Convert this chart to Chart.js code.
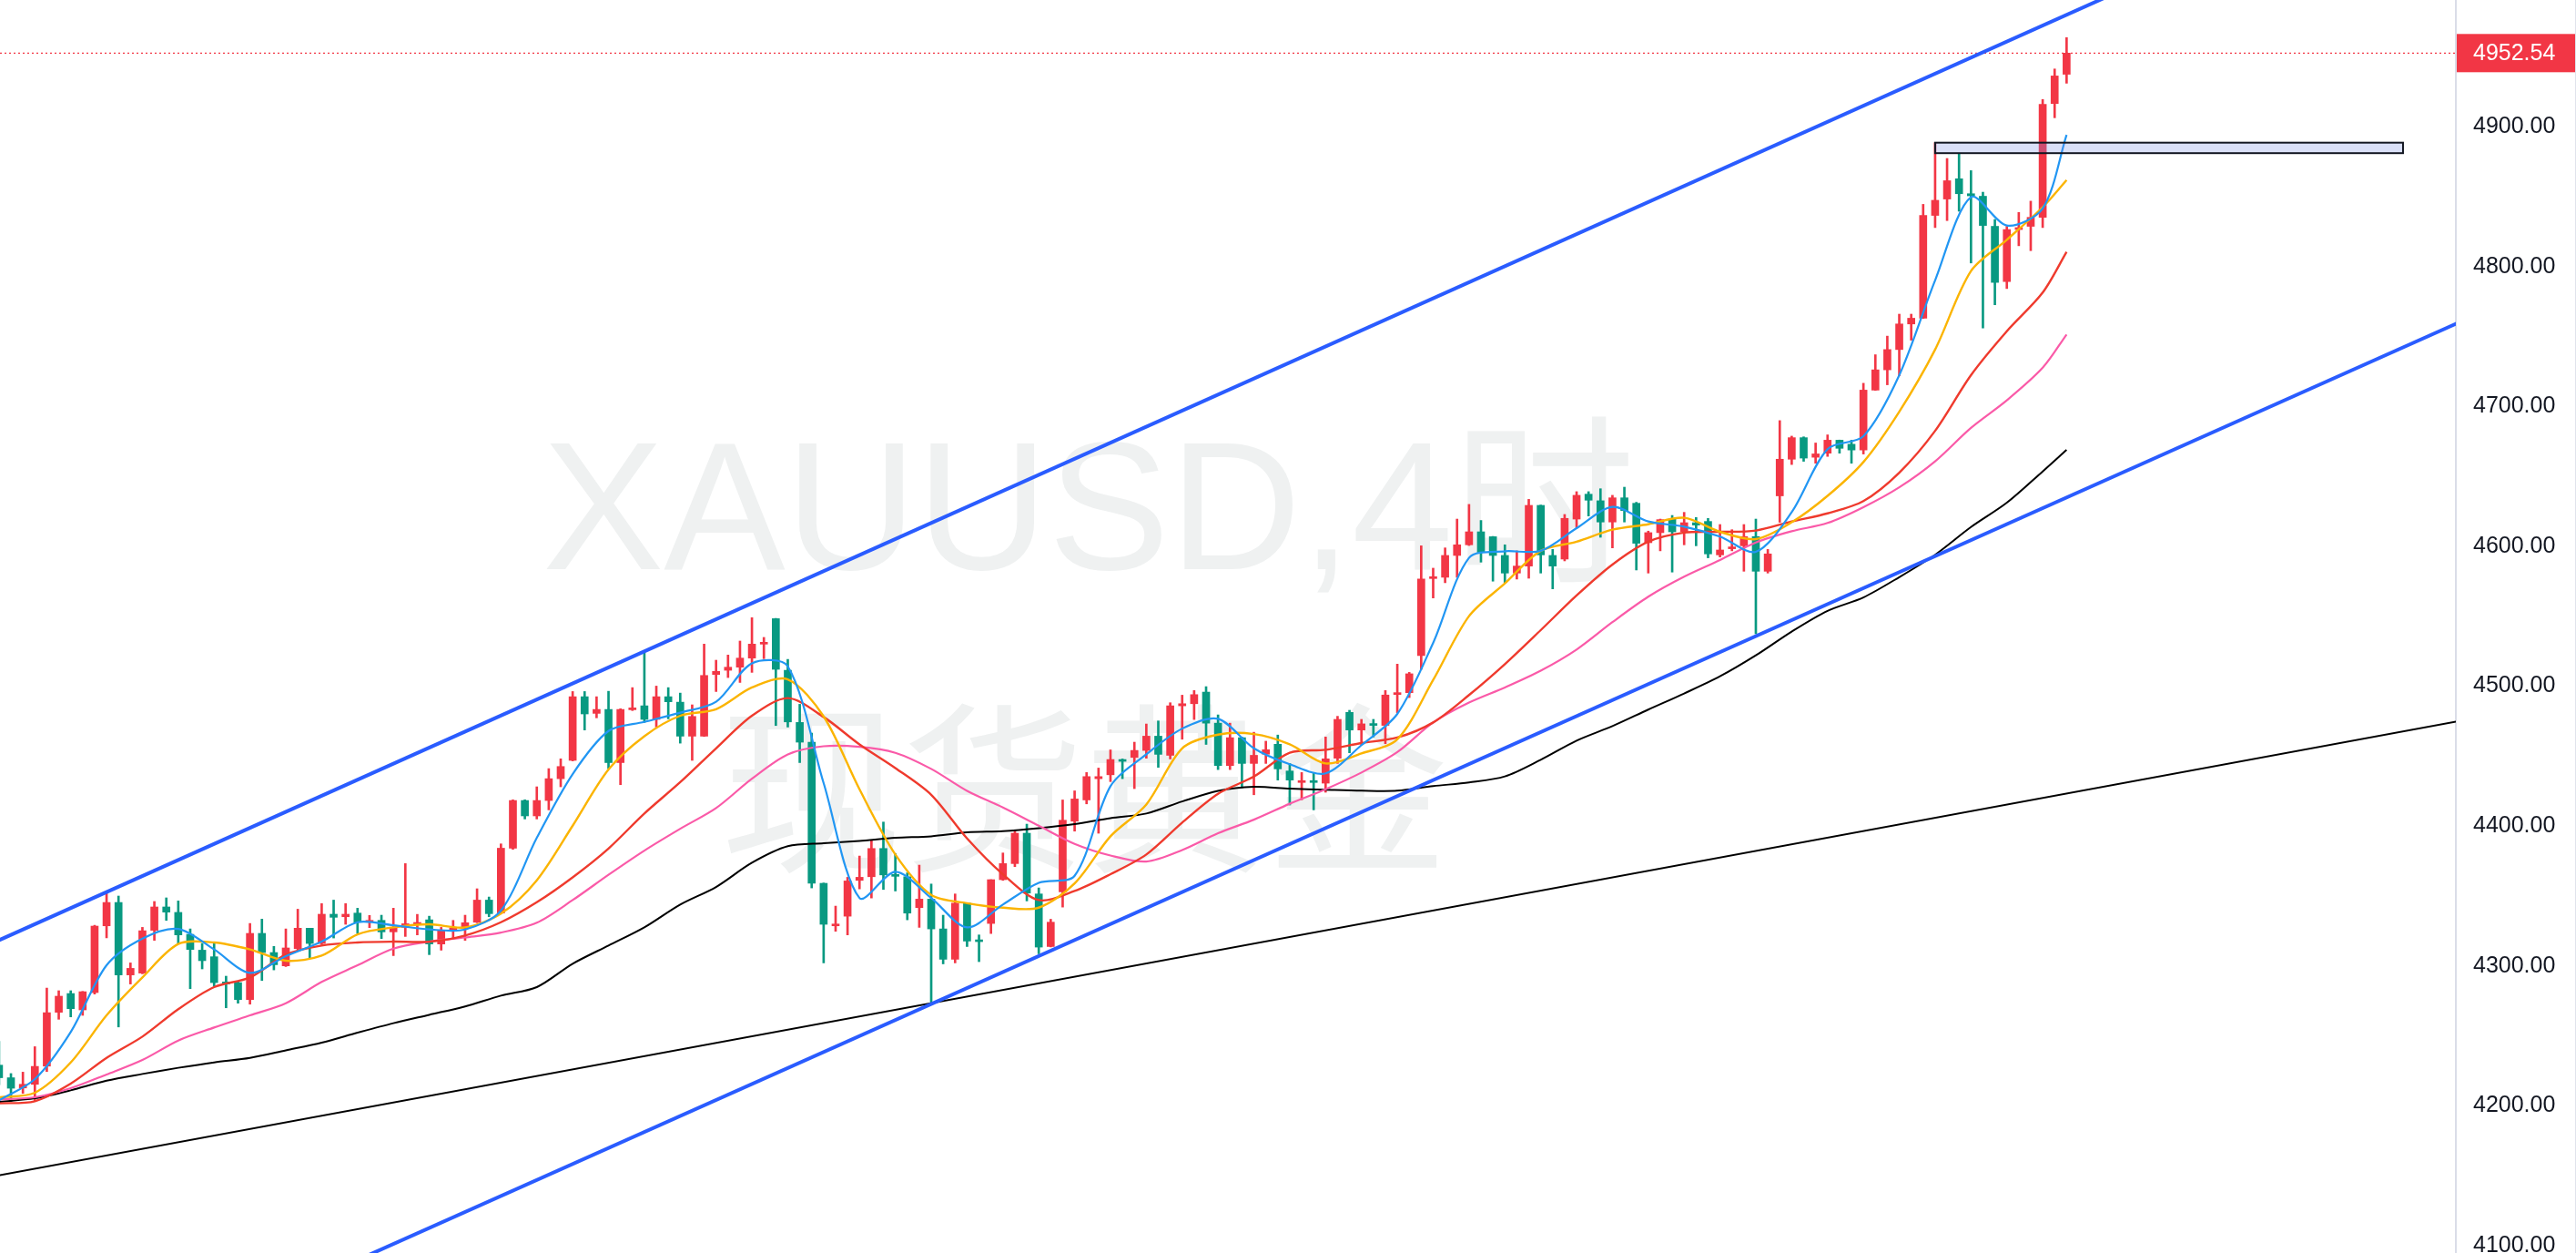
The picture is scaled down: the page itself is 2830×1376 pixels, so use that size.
<!DOCTYPE html>
<html><head><meta charset="utf-8">
<script src="https://cdn.jsdelivr.net/npm/chart.js@4.4.1/dist/chart.umd.min.js"></script>
<style>html,body{margin:0;padding:0;background:#fff;overflow:hidden}#wrap{width:2830px;height:1376px}</style>
</head><body><div id="wrap"><canvas id="c" width="2830" height="1376"></canvas></div>
<script>
// ---- candle data (XAUUSD 4H) ----
const openP = [4229,4220,4212.7,4215.3,4228.3,4266.8,4280.2,4268.5,4280.9,4328.6,4345.3,4293.5,4294.8,4325.4,4342.1,4338.2,4322.5,4311.2,4306.5,4288.5,4288,4275.9,4323.2,4309.5,4300,4312.3,4326.9,4316,4336.9,4335.1,4337.7,4331.2,4332.5,4324.3,4327.5,4329.7,4332.9,4315.6,4324.7,4326.9,4331.2,4347,4337.7,4384.1,4418.2,4407.2,4418.2,4433.8,4446.9,4492.4,4480.5,4483.3,4445.3,4483.1,4485.9,4476.2,4492.4,4488.5,4464.2,4464.2,4508.3,4511.3,4513.5,4520,4530,4548.2,4511.3,4474,4459.9,4359,4328.6,4335.5,4361.1,4363.7,4383.9,4365,4363.7,4341.6,4347.7,4326.4,4304.7,4344.8,4318.2,4330.3,4361.6,4373.1,4394.8,4351.4,4313.8,4352.9,4403.4,4418.6,4433.8,4436.6,4447.5,4449,4454,4464.2,4450.5,4485.9,4487.4,4495.7,4473.5,4443.2,4463.1,4444.7,4451.3,4458.4,4439.3,4431.1,4431.7,4430.6,4448.4,4481.2,4468.6,4472.7,4471.9,4494,4495.3,4521.8,4576.9,4577.8,4593.4,4601,4610.3,4606.8,4593.4,4580.8,4585.8,4629.2,4593.4,4590.8,4619.4,4637.2,4632.5,4617.3,4634.6,4630.7,4602.5,4609.7,4619.4,4610.3,4616.8,4617.7,4593.8,4598.2,4600.3,4606.9,4582.1,4636,4662.2,4677.6,4663.6,4666.5,4675.8,4672.9,4668.8,4711.6,4726.1,4740.6,4758.9,4763,4836.5,4848.2,4862.7,4852,4850.2,4828.7,4789.2,4826.4,4828.7,4835.1,4916.5,4937.4];
const highP = [4246,4223,4224,4242.2,4284.1,4282.2,4282.2,4281.7,4329,4352,4349.9,4302.1,4327.5,4346,4348.6,4346.4,4326.4,4316,4316,4292.6,4288.5,4330.3,4333.4,4313.9,4326.4,4340.5,4326.9,4344.5,4347,4344.5,4341.2,4336,4336.2,4341.2,4373.1,4336.8,4335.5,4327.5,4332.5,4336.2,4355.1,4349.2,4387.2,4418.7,4418.7,4428,4441,4448,4496.1,4496.1,4492.4,4496.3,4483.8,4498.9,4523.9,4500,4498.9,4495,4486.6,4530,4518.5,4522.2,4532.2,4548.9,4534.8,4548.4,4519.1,4487,4466.4,4359.2,4342.7,4363.3,4378.5,4389.8,4402.8,4380.2,4366.5,4372,4358.5,4336.2,4351.4,4345,4322.1,4361.6,4380.7,4396.9,4401.3,4355.7,4333.3,4418.6,4425.1,4438.2,4441.4,4454.4,4447.9,4459.9,4472.9,4475.1,4488.1,4493.5,4496.8,4499.6,4479.4,4473.5,4463.5,4467,4460.6,4465,4444.7,4438.2,4438.2,4463.6,4478.4,4482.7,4476.2,4476.2,4496.8,4515.7,4509.8,4600.3,4584.3,4598.8,4619.4,4629.9,4618.4,4607,4601,4596.7,4633.5,4629.4,4597.7,4622.7,4639,4639,4641.1,4636.4,4642.2,4631.4,4610.8,4619.4,4622,4624.2,4620.5,4619.9,4615.5,4611.8,4615.5,4619.4,4597.7,4689.8,4678.7,4678.2,4673.8,4679.6,4675.9,4675.8,4716.5,4736.9,4750.2,4765.9,4765.9,4844.4,4888.5,4877.2,4880.7,4868.5,4853.1,4833.6,4828.7,4838.6,4846.7,4919.4,4941.2,4963.6];
const lowP = [4215,4203,4208.8,4203.2,4224.4,4261.8,4263.5,4264.6,4279.8,4320,4256.3,4287,4294.3,4318.2,4332.5,4316,4283.7,4297.8,4285.2,4270,4273.3,4272.6,4289.5,4297.1,4299.5,4311.2,4305.2,4315.2,4319.9,4329.7,4323.2,4327.3,4319.5,4307.3,4321,4322.1,4308,4311.2,4320,4318.2,4330.8,4335.1,4337.3,4383.3,4405,4405,4411.5,4428,4446.5,4468.6,4477.3,4441,4429.5,4482.5,4474,4470.7,4476.6,4459.2,4446.9,4464,4496.1,4506.1,4502.6,4509.8,4519.6,4471.8,4470.7,4445.3,4355.7,4302.1,4324.7,4322.1,4355,4348.5,4354.6,4353.5,4332.9,4327.5,4274,4301.4,4302.1,4313.8,4303,4323.1,4361.1,4370.9,4346.4,4308.6,4313.5,4342,4396.3,4415.8,4394.8,4431.7,4433.8,4426.7,4448.4,4441.9,4447.9,4462,4476.1,4458.3,4440.3,4440.3,4427.3,4422.3,4444.7,4432.8,4415,4418.7,4411.5,4424.1,4444.7,4452.3,4457.8,4463.6,4458.8,4481,4491.8,4512,4563,4573.9,4577.8,4600.5,4588.6,4575,4573.9,4576.5,4577.1,4580.8,4569.5,4589.5,4612.9,4621.6,4606.4,4598.8,4617.3,4583,4580.8,4596.7,4581.5,4601,4600.3,4591.7,4592.3,4596.7,4582.1,4537.4,4580.8,4617.1,4658.4,4660.7,4659.3,4664.2,4666.5,4659.3,4665.9,4711.4,4715.4,4721.8,4747.3,4762.8,4827.8,4832.8,4839.5,4802.5,4756,4772.6,4784.2,4814.8,4811.3,4827.8,4906.3,4931];
const closeP = [4220,4212.5,4215.3,4228.1,4266.5,4278.3,4269.4,4281.5,4328.4,4345.3,4293.5,4298.2,4325.1,4342.1,4338.4,4322.1,4311.7,4303.7,4288,4287,4275.9,4323.2,4309.5,4300.8,4312.8,4326.9,4316,4336.9,4334.7,4336.9,4331.2,4332.5,4324.3,4327.1,4330.1,4330.8,4315.6,4325.3,4326.9,4330.8,4347,4337.3,4384.1,4418.2,4407.2,4418.2,4433.8,4442.5,4492.4,4480.1,4483.3,4445.3,4483.3,4484.2,4476.2,4492.4,4488.8,4464.2,4478.3,4507.6,4510.5,4513.5,4520,4530,4530.9,4512,4474.4,4459.9,4359,4329.7,4329.7,4360.7,4363.3,4383.9,4365,4364,4337.7,4347.7,4326.4,4304.7,4344.8,4317.7,4317.3,4361.6,4373.1,4394.8,4352,4313.4,4331.2,4404.1,4419.3,4435.3,4435.3,4447.5,4446.2,4454,4464.2,4451.2,4485.9,4487.4,4493.9,4473.5,4443.2,4463.1,4444.7,4450.5,4454.5,4440.8,4432.8,4431.7,4431.1,4448,4476.2,4468.6,4473,4471.9,4493.6,4495.3,4508.8,4576.5,4577.8,4593.4,4601,4610.3,4595.6,4593.4,4580.8,4585.8,4629.2,4593.8,4585.8,4619.9,4636.4,4632.9,4617.3,4634.6,4625.5,4602.1,4609.7,4619,4610.3,4616.8,4615.1,4594.5,4597.3,4599.5,4606.9,4582.1,4594.5,4662.2,4677.6,4663,4666,4675.8,4670,4668.8,4711.6,4726.1,4740.6,4758.9,4763,4836.5,4847.3,4861.3,4852,4850.5,4829.3,4788.6,4826.4,4827.8,4835.1,4915.9,4936.2,4952.54];

// ---- moving averages, read at these candle indices ----
const maIdx = [0,3,6,9,12,15,18,21,24,27,30,33,36,39,42,45,48,51,54,57,60,63,66,69,72,75,78,81,84,87,90,93,96,99,102,105,108,111,114,117,120,123,126,129,132,135,138,141,144,147,150,153,156,159,162,165,168,171,173];
const ma5 = [4203.8,4219,4252.7,4300.4,4319.5,4326.4,4311.7,4295,4306.9,4317.3,4331.2,4329,4326,4326,4339.5,4391.5,4437.1,4467.9,4474.4,4481,4488.8,4516.3,4514.1,4430.6,4348.5,4367.2,4348.5,4327.5,4343.8,4359.4,4364.4,4428.4,4451.2,4469.6,4476.6,4455.5,4444.1,4437.6,4457.8,4480.1,4530.9,4591.7,4596.4,4596.7,4612.9,4628.1,4617.7,4614,4606.9,4596,4624.4,4669.4,4678.7,4722.3,4790.1,4849.6,4829.3,4841.5,4894.1];
const ma10 = [4206,4209.3,4230.9,4264.6,4291.7,4315.6,4316.7,4311.7,4303.7,4307.3,4322.5,4327.5,4329.7,4327.5,4337.3,4361.2,4400.2,4440.4,4464.2,4478.8,4483.5,4499,4504.8,4478.3,4426.2,4379.6,4350.7,4344.8,4341.6,4341.6,4358.9,4392.6,4415.4,4455.5,4465.3,4465.7,4458.4,4444.7,4451.9,4461.9,4504.4,4550,4573.4,4596.7,4603.2,4611.8,4615.7,4620.3,4610.3,4605.1,4617.1,4636,4660.2,4696.2,4740.6,4796.7,4819.1,4842.4,4861.8];
const ma20 = [4201.7,4203.2,4215.8,4234.2,4249.4,4269,4284.8,4291.7,4308,4314.5,4316.7,4317.3,4317.3,4321.7,4331.2,4345.5,4363.3,4383.9,4408.9,4431.3,4455.5,4478.8,4491.4,4477.9,4458.3,4441.4,4422.3,4391.1,4365.5,4347,4353.5,4365.5,4379.6,4402.4,4423,4435.3,4452.3,4454.5,4459.3,4463.2,4474,4493.6,4515.7,4540,4564.8,4586.9,4603.2,4609.7,4610.3,4611.2,4617.7,4623.5,4632.3,4652.6,4682.5,4722.3,4753.7,4781.3,4810.4];
const ma30 = [4204.5,4206,4212.5,4222.3,4232.7,4246.6,4255.9,4264.6,4273.3,4288.5,4300.4,4312.3,4317.3,4320.3,4323.8,4330.8,4347,4365.1,4382.4,4398,4412.8,4433.8,4451.2,4457,4456.6,4452.3,4440.8,4425.1,4413.2,4400.2,4387.2,4378.9,4374.6,4382.8,4394.8,4404.5,4415.9,4426.3,4438.2,4452.8,4474,4488.2,4499,4511,4526.1,4545.7,4563.9,4578.2,4590.1,4602.7,4610.7,4616.6,4627.9,4642.1,4660.7,4684.6,4704.3,4727.6,4751.4];
const ma60 = [4202.7,4205.3,4211,4217.9,4222.7,4227.1,4231,4234.2,4239.6,4245.1,4252.2,4259,4265,4271,4278.7,4284.8,4301.5,4314.5,4327.5,4343.8,4356.4,4373.7,4385.5,4387.6,4389.3,4391.5,4392.6,4395.4,4396.3,4398.4,4401.3,4405.6,4408.9,4417.5,4425.1,4428,4426.7,4425.9,4425.2,4425.2,4428.5,4431.1,4435.4,4447.3,4461,4471.4,4483.2,4494.7,4507,4522,4539,4553.8,4563.4,4577.9,4593.9,4613.7,4631.1,4653.5,4668.9];

// ---- drawings (candle index, price) ----
const upperChannel = [[0,4318.3],[206,5106.1]];
const lowerChannel = [[20,4051.6],[206,4760.6]];
const longTrend = [[0,4150.2],[206,4475.2]];
const zoneBox = {x0:162, x1:201.15, yTop:4888.5, yBottom:4881};
const lastPrice = 4952.54;

// ---- axis ----
const yTicks = [4100,4200,4300,4400,4500,4600,4700,4800,4900];
const xMin = 0.084, xMax = 205.57, yMin = 4094.7, yMax = 4990.5;
const watermark = ['XAUUSD,4时', '现货黄金'];

const UP = '#F23645', DOWN = '#089981';
const candleColors = closeP.map((c,i)=> c >= openP[i] ? UP : DOWN);

const toPts = arr => arr.map(p=>({x:p[0], y:p[1]}));
const maPts = vals => maIdx.map((x,k)=>({x, y:vals[k]}));

const bgPlugin = {
  id:'wm',
  beforeDatasetsDraw(chart){
    const {ctx, chartArea:a} = chart;
    ctx.save();
    ctx.fillStyle = '#EFF1F1';
    ctx.textAlign = 'center';
    ctx.textBaseline = 'alphabetic';
    ctx.font = '200px "Liberation Sans", "Noto Sans CJK SC"';
    ctx.fillText(watermark[0], a.left + a.width*0.4433, 625);
    ctx.textBaseline = 'middle';
    ctx.font = '200px "Noto Sans CJK SC"';
    ctx.fillText(watermark[1], a.left + a.width*0.4415, 866);
    ctx.restore();
  },
  afterDatasetsDraw(chart){
    const {ctx, scales:{x,y}} = chart;
    const x0 = x.getPixelForValue(zoneBox.x0), x1 = x.getPixelForValue(zoneBox.x1);
    const y0 = y.getPixelForValue(zoneBox.yTop), y1 = y.getPixelForValue(zoneBox.yBottom);
    ctx.save();
    ctx.fillStyle = 'rgba(120,140,230,0.27)';
    ctx.fillRect(x0, y0, x1-x0, y1-y0);
    ctx.strokeStyle = '#131722';
    ctx.lineWidth = 2;
    ctx.strokeRect(x0, y0, x1-x0, y1-y0);
    ctx.restore();
  },
  afterDraw(chart){
    const {ctx, scales:{y}} = chart;
    const py = y.getPixelForValue(lastPrice);
    ctx.save();
    ctx.fillStyle = UP;
    ctx.fillRect(y.left+1, py-21, chart.width - y.left - 1, 42);
    ctx.fillStyle = '#FFFFFF';
    ctx.font = '25px "Liberation Sans", Arial';
    ctx.textAlign = 'left';
    ctx.textBaseline = 'middle';
    ctx.fillText(lastPrice.toFixed(2), y.left + 19, py+1);
    ctx.fillStyle = '#E0E3EB';
    ctx.fillRect(chart.width-1, 0, 1, chart.height);
    ctx.restore();
  }
};

const lineDs = (data, color, width, order, extra) => Object.assign({
  type:'line', data, borderColor:color, borderWidth:width, pointRadius:0,
  fill:false, tension:0.3, order
}, extra||{});

new Chart(document.getElementById('c'), {
  type:'bar',
  data:{
    datasets:[
      { type:'bar', data: highP.map((h,i)=>({x:i, y:[lowP[i], h]})), backgroundColor:candleColors,
        barThickness:2, grouped:false, order:30 },
      { type:'bar', data: openP.map((o,i)=>({x:i, y:[o, closeP[i]]})), backgroundColor:candleColors,
        barThickness:8, minBarLength:2, grouped:false, order:29 },
      lineDs(maPts(ma60), '#000000', 2, 20),
      lineDs(maPts(ma30), '#FA5AA8', 2.2, 19),
      lineDs(maPts(ma20), '#EF3A2D', 2.4, 18),
      lineDs(maPts(ma10), '#FBB400', 2.4, 17),
      lineDs(maPts(ma5), '#2196F3', 2.2, 16),
      lineDs([{x:xMin,y:lastPrice},{x:xMax,y:lastPrice}], UP, 1.2, 5, {borderDash:[2,3], tension:0}),
      lineDs(toPts(longTrend), '#000000', 2, 3, {tension:0}),
      lineDs(toPts(lowerChannel), '#2A5CFF', 4, 2, {tension:0}),
      lineDs(toPts(upperChannel), '#2A5CFF', 4, 1, {tension:0})
    ]
  },
  options:{
    responsive:false, animation:false, devicePixelRatio:1,
    layout:{padding:0, autoPadding:false},
    events:[],
    plugins:{legend:{display:false}, tooltip:{enabled:false}},
    scales:{
      x:{type:'linear', min:xMin, max:xMax, display:false, offset:false, grid:{offset:false}, ticks:{display:false}},
      y:{type:'linear', position:'right', min:yMin, max:yMax, bounds:'data',
         grid:{display:false, drawTicks:false},
         border:{display:true, color:'#DADDE8', width:2},
         ticks:{padding:19, color:'#131722', font:{family:'"Liberation Sans", Arial', size:25},
                callback:v=>Number(v).toFixed(2)},
         afterBuildTicks:s=>{ s.ticks = yTicks.map(v=>({value:v})); },
         afterFit:s=>{ s.width = 132; s.paddingTop = 0; s.paddingBottom = 0; }
      }
    }
  },
  plugins:[bgPlugin]
});
</script>
</body></html>
